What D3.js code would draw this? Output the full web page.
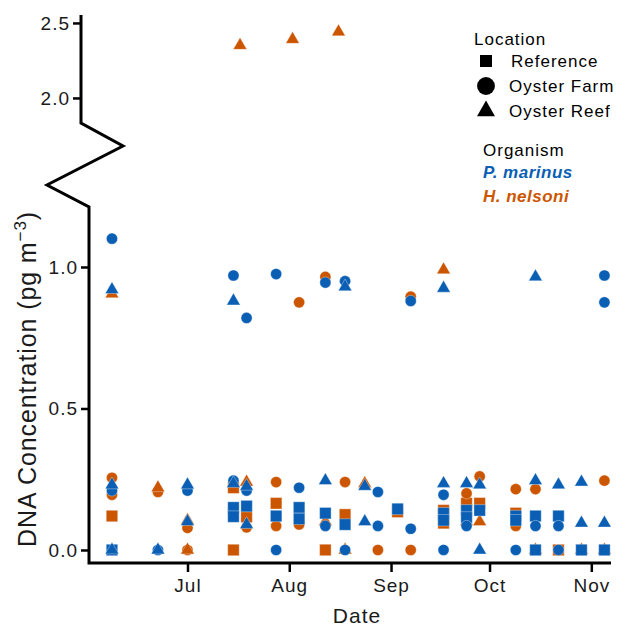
<!DOCTYPE html>
<html>
<head>
<meta charset="utf-8">
<script src="https://cdn.jsdelivr.net/npm/d3@7"></script>
<style>
  body { margin: 0; background: #fff; }
  svg { display: block; font-family: "Liberation Sans", Arial, Helvetica, sans-serif; }
</style>
</head>
<body>
<div id="chart"></div>
<script>
// [date, DNA concentration] per organism and location
const pMarinusReference = [
  ["2021-06-08", 0], ["2021-07-15", 0.15], ["2021-07-15", 0.118], ["2021-07-19", 0.155],
  ["2021-07-28", 0.12], ["2021-08-04", 0.15], ["2021-08-04", 0.11], ["2021-08-12", 0.13],
  ["2021-08-18", 0.09], ["2021-09-03", 0.145], ["2021-09-17", 0.13], ["2021-09-17", 0.105],
  ["2021-09-24", 0.14], ["2021-09-24", 0.115], ["2021-09-28", 0.14], ["2021-10-09", 0.12],
  ["2021-10-09", 0.105], ["2021-10-15", 0.12], ["2021-10-15", 0], ["2021-10-22", 0.12],
  ["2021-10-29", 0], ["2021-11-05", 0]
];
const pMarinusFarm = [
  ["2021-06-08", 1.10], ["2021-06-08", 0.21], ["2021-06-22", 0], ["2021-07-01", 0.21],
  ["2021-07-15", 0.97], ["2021-07-15", 0.245], ["2021-07-19", 0.82], ["2021-07-19", 0.21],
  ["2021-07-28", 0.975], ["2021-07-28", 0], ["2021-08-04", 0.22], ["2021-08-12", 0.945],
  ["2021-08-12", 0.085], ["2021-08-18", 0.95], ["2021-08-18", 0], ["2021-08-28", 0.205],
  ["2021-08-28", 0.085], ["2021-09-07", 0.88], ["2021-09-07", 0.075], ["2021-09-17", 0.195],
  ["2021-09-17", 0], ["2021-09-24", 0.085], ["2021-10-09", 0], ["2021-10-15", 0.085],
  ["2021-10-22", 0.085], ["2021-10-22", 0], ["2021-11-05", 0.97], ["2021-11-05", 0.875]
];
const pMarinusReef = [
  ["2021-06-08", 0.92], ["2021-06-08", 0.23], ["2021-06-08", 0], ["2021-06-22", 0],
  ["2021-07-01", 0.23], ["2021-07-01", 0.10], ["2021-07-15", 0.88], ["2021-07-15", 0.235],
  ["2021-07-19", 0.225], ["2021-07-19", 0.09], ["2021-08-12", 0.245], ["2021-08-18", 0.93],
  ["2021-08-24", 0.225], ["2021-08-24", 0.10], ["2021-09-17", 0.925], ["2021-09-17", 0.235],
  ["2021-09-24", 0.235], ["2021-09-28", 0.23], ["2021-09-28", 0], ["2021-10-15", 0.965],
  ["2021-10-15", 0.245], ["2021-10-22", 0.23], ["2021-10-29", 0.24], ["2021-10-29", 0.095],
  ["2021-11-05", 0.095]
];
const hNelsoniReference = [
  ["2021-06-08", 0.12], ["2021-07-15", 0.22], ["2021-07-15", 0], ["2021-07-19", 0.117],
  ["2021-07-28", 0.165], ["2021-08-12", 0], ["2021-08-18", 0.125], ["2021-09-03", 0.135],
  ["2021-09-17", 0.14], ["2021-09-17", 0.095], ["2021-09-24", 0.165], ["2021-09-28", 0.165],
  ["2021-10-09", 0.13], ["2021-10-22", 0]
];
const hNelsoniFarm = [
  ["2021-06-08", 0.255], ["2021-06-08", 0.195], ["2021-06-22", 0.205], ["2021-07-01", 0.078],
  ["2021-07-01", 0], ["2021-07-19", 0.08], ["2021-07-28", 0.24], ["2021-07-28", 0.085],
  ["2021-08-04", 0.875], ["2021-08-04", 0.09], ["2021-08-12", 0.965], ["2021-08-18", 0.24],
  ["2021-08-28", 0], ["2021-09-07", 0.895], ["2021-09-07", 0], ["2021-09-24", 0.20],
  ["2021-09-28", 0.26], ["2021-10-09", 0.215], ["2021-10-09", 0.085], ["2021-10-15", 0.215],
  ["2021-11-05", 0.245]
];
const hNelsoniReef = [
  ["2021-06-08", 0.905], ["2021-06-22", 0.22], ["2021-07-01", 0.105], ["2021-07-01", 0],
  ["2021-07-17", 2.35], ["2021-07-19", 0.24], ["2021-08-02", 2.39], ["2021-08-12", 0.10],
  ["2021-08-16", 2.44], ["2021-08-18", 0], ["2021-08-24", 0.235], ["2021-09-17", 0.99],
  ["2021-09-24", 0.10], ["2021-09-28", 0.10], ["2021-10-15", 0], ["2021-10-29", 0],
  ["2021-11-05", 0]
];

const monthTicks = ["2021-07-01", "2021-08-01", "2021-09-01", "2021-10-01", "2021-11-01"];
const lowTicks = [0, 0.5, 1.0];
const highTicks = [2.0, 2.5];
const locations = ["Reference", "Oyster Farm", "Oyster Reef"];
const organisms = ["P. marinus", "H. nelsoni"];

const blue = "#0a5fb4";
const orange = "#cc5500";

const width = 625, height = 627;
const parse = d3.timeParse("%Y-%m-%d");

const svg = d3.select("#chart").append("svg")
  .attr("width", width)
  .attr("height", height);

// scales: lower panel 0-1.2, upper panel 1.8-2.5 (broken axis)
const x = d3.scaleTime()
  .domain([parse("2021-06-01"), parse("2021-11-07")])
  .range([89, 611]);
const yLow = d3.scaleLinear().domain([-0.046, 1.212]).range([563, 207]);
const yHigh = d3.scaleLinear().domain([1.833, 2.553]).range([123, 15]);
const upperX = 81; // upper panel axis sits a bit to the left

const shape = {
  Reference: d3.symbolSquare,
  "Oyster Farm": d3.symbolCircle,
  "Oyster Reef": d3.symbolTriangle
};
const size = { Reference: 132, "Oyster Farm": 98, "Oyster Reef": 80 };

// axes
const fmt = d3.format(".1f");
const gLow = svg.append("g")
  .attr("transform", `translate(${x.range()[0]},0)`)
  .call(d3.axisLeft(yLow).tickValues(lowTicks).tickFormat(fmt).tickSize(8).tickSizeOuter(0).tickPadding(3));
const gHigh = svg.append("g")
  .attr("transform", `translate(${upperX},0)`)
  .call(d3.axisLeft(yHigh).tickValues(highTicks).tickFormat(fmt).tickSize(8).tickSizeOuter(0).tickPadding(3));
const gX = svg.append("g")
  .attr("transform", `translate(0,${yLow.range()[0]})`)
  .call(d3.axisBottom(x).tickValues(monthTicks.map(parse)).tickFormat(d3.timeFormat("%b"))
    .tickSize(9).tickSizeOuter(0).tickPadding(6));

[gLow, gHigh, gX].forEach(g => {
  g.select(".domain").remove();
  g.selectAll(".tick line").attr("stroke", "#000").attr("stroke-width", 2.5);
  g.selectAll(".tick text")
    .attr("fill", "#1a1a1a")
    .style("font-size", "19px")
    .style("letter-spacing", "1px");
});
gX.selectAll(".tick text").attr("dy", "0.75em");

// axis lines with the break zigzag
const yTop = yHigh.range()[1], yBreak = yHigh.range()[0], yLowTop = yLow.range()[1];
svg.append("path")
  .attr("d", d3.line()([
    [upperX, yTop], [upperX, yBreak],
    [upperX + 42, yBreak + 23], [upperX - 34, yBreak + 62],
    [x.range()[0], yLowTop], [x.range()[0], yLow.range()[0]], [x.range()[1], yLow.range()[0]]
  ]))
  .attr("fill", "none")
  .attr("stroke", "#000")
  .attr("stroke-width", 3)
  .attr("stroke-linejoin", "miter");

// points
const series = [
  { data: hNelsoniReference, loc: "Reference", color: orange },
  { data: hNelsoniFarm, loc: "Oyster Farm", color: orange },
  { data: hNelsoniReef, loc: "Oyster Reef", color: orange },
  { data: pMarinusReference, loc: "Reference", color: blue },
  { data: pMarinusFarm, loc: "Oyster Farm", color: blue },
  { data: pMarinusReef, loc: "Oyster Reef", color: blue }
];

series.forEach(s => {
  svg.append("g").selectAll("path")
    .data(s.data)
    .join("path")
    .attr("d", d3.symbol(shape[s.loc], size[s.loc]))
    .attr("transform", d => {
      const v = d[1];
      const py = v > 1.5 ? yHigh(v) : yLow(v);
      return `translate(${x(parse(d[0]))},${py})`;
    })
    .attr("fill", s.color)
    .attr("stroke", "#fff")
    .attr("stroke-width", 0.5)
    .attr("stroke-opacity", 0.7);
});

// y axis title
const yTitle = svg.append("text")
  .attr("transform", "translate(36,379) rotate(-90)")
  .attr("text-anchor", "middle")
  .style("font-size", "25px")
  .style("letter-spacing", "0.9px")
  .attr("fill", "#1a1a1a");
yTitle.append("tspan").text("DNA Concentration (pg m");
yTitle.append("tspan").attr("dy", -10).style("font-size", "17px").text("\u22123");
yTitle.append("tspan").attr("dy", 10).text(")");

// x axis title
svg.append("text")
  .attr("x", 357)
  .attr("y", 623)
  .attr("text-anchor", "middle")
  .style("font-size", "21px")
  .style("letter-spacing", "1px")
  .attr("fill", "#1a1a1a")
  .text("Date");

// legend: location
const legend = svg.append("g").style("font-size", "17px").style("letter-spacing", "1px");
legend.append("text").attr("x", 474).attr("y", 45).text("Location");
const legendSize = { Reference: 144, "Oyster Farm": 250, "Oyster Reef": 140 };
locations.forEach((loc, i) => {
  const cy = 61 + i * 25;
  legend.append("path")
    .attr("d", d3.symbol(shape[loc], legendSize[loc]))
    .attr("transform", `translate(486,${cy})`)
    .attr("fill", "#000");
  legend.append("text")
    .attr("x", i == 0 ? 511 : 509)
    .attr("y", cy + 6)
    .text(loc);
});

// legend: organism
legend.append("text").attr("x", 483).attr("y", 156).text("Organism");
organisms.forEach((org, i) => {
  legend.append("text")
    .attr("x", 483)
    .attr("y", 178 + i * 24)
    .attr("fill", i == 0 ? blue : orange)
    .style("font-weight", "bold")
    .style("font-style", "italic")
    .style("letter-spacing", "0.5px")
    .text(org);
});
</script>
</body>
</html>
